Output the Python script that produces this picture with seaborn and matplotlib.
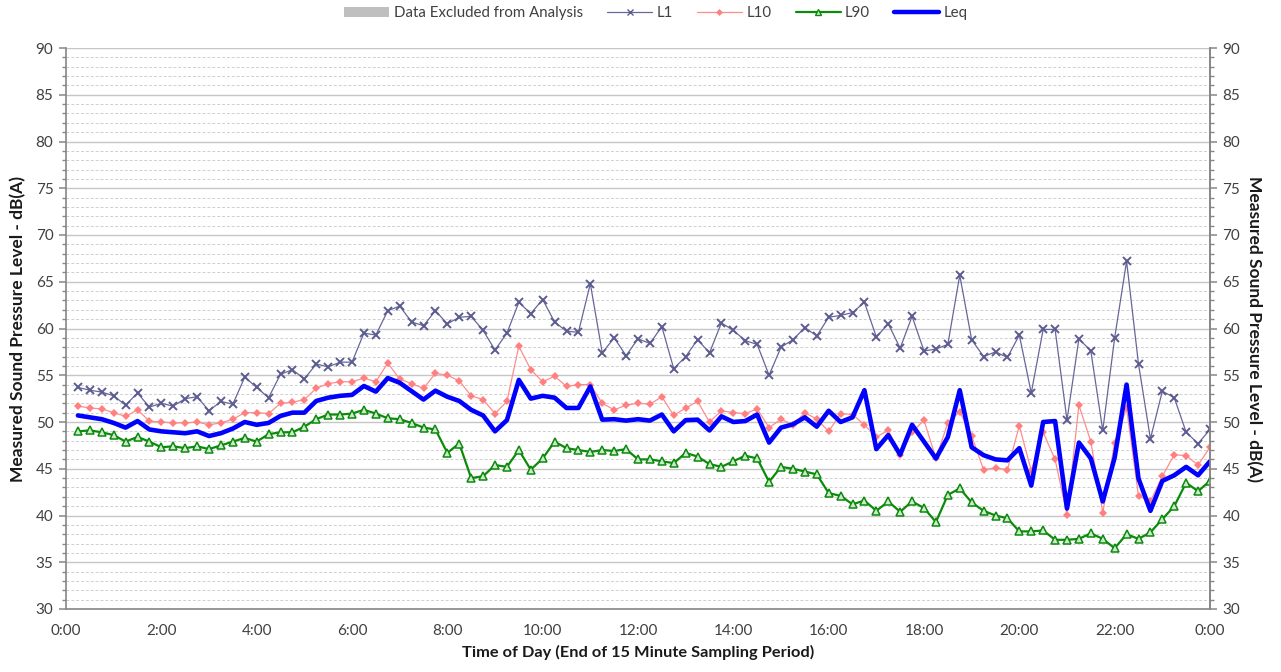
import numpy as np
import pandas as pd
import matplotlib
matplotlib.use("Agg")
import matplotlib.pyplot as plt
from matplotlib.patches import Patch
from matplotlib.lines import Line2D
from matplotlib.ticker import MultipleLocator, FixedLocator
import seaborn as sns

# 15-minute sampling periods, labelled by period end (0:15 ... 24:00)
hours = [0.25 * i for i in range(1, 97)]

l1 = [53.7, 53.4, 53.2, 52.8, 51.8, 53.1, 51.6, 52.0, 51.7, 52.5, 52.7, 51.2, 52.2, 51.9, 54.8, 53.7,
      52.6, 55.1, 55.6, 54.6, 56.2, 55.9, 56.4, 56.4, 59.5, 59.3, 61.9, 62.4, 60.7, 60.3, 61.9, 60.5,
      61.2, 61.3, 59.8, 57.7, 59.5, 62.8, 61.6, 63.1, 60.7, 59.7, 59.6, 64.8, 57.4, 59.0, 57.1, 58.9,
      58.4, 60.2, 55.7, 57.0, 58.8, 57.4, 60.6, 59.8, 58.7, 58.3, 55.0, 58.0, 58.8, 60.1, 59.2, 61.2,
      61.4, 61.7, 62.8, 59.1, 60.5, 57.9, 61.3, 57.6, 57.8, 58.3, 65.7, 58.8, 57.0, 57.5, 56.9, 59.3,
      53.1, 59.9, 59.9, 50.2, 58.9, 57.6, 49.1, 59.0, 67.2, 56.2, 48.2, 53.3, 52.6, 48.9, 47.7, 49.2]

l10 = [51.7, 51.5, 51.4, 51.0, 50.6, 51.3, 50.1, 50.0, 49.9, 49.9, 50.0, 49.7, 49.9, 50.3, 51.0, 51.0,
       50.9, 52.0, 52.1, 52.4, 53.6, 54.1, 54.3, 54.3, 54.7, 54.3, 56.3, 54.6, 54.1, 53.6, 55.2, 55.0,
       54.4, 52.8, 52.4, 50.9, 52.2, 58.1, 55.6, 54.3, 54.9, 53.8, 54.0, 54.0, 52.0, 51.3, 51.8, 52.0,
       51.9, 52.7, 50.7, 51.5, 52.2, 50.0, 51.2, 51.0, 50.9, 51.4, 49.4, 50.3, 49.7, 51.0, 50.3, 49.0,
       50.9, 50.8, 49.7, 48.4, 49.1, 46.5, 48.9, 50.2, 46.1, 49.9, 51.1, 48.5, 44.9, 45.1, 44.9, 49.6,
       44.8, 48.9, 46.0, 40.1, 51.8, 47.9, 40.3, 47.8, 51.5, 42.1, 41.5, 44.2, 46.5, 46.4, 45.4, 47.3]

l90 = [49.0, 49.1, 48.9, 48.6, 47.9, 48.4, 47.9, 47.3, 47.4, 47.2, 47.4, 47.1, 47.5, 47.9, 48.3, 47.9,
       48.7, 48.9, 48.9, 49.5, 50.3, 50.8, 50.8, 50.9, 51.3, 50.9, 50.4, 50.3, 49.9, 49.4, 49.2, 46.7,
       47.7, 44.0, 44.2, 45.4, 45.2, 47.0, 44.9, 46.1, 47.9, 47.2, 47.0, 46.8, 47.0, 46.9, 47.1, 46.0,
       46.0, 45.8, 45.6, 46.7, 46.3, 45.5, 45.2, 45.8, 46.4, 46.1, 43.6, 45.2, 45.0, 44.7, 44.4, 42.4,
       42.1, 41.2, 41.6, 40.5, 41.5, 40.4, 41.5, 40.8, 39.3, 42.2, 42.9, 41.4, 40.5, 40.0, 39.7, 38.3,
       38.3, 38.4, 37.4, 37.4, 37.5, 38.1, 37.5, 36.5, 38.0, 37.5, 38.2, 39.6, 41.0, 43.5, 42.6, 43.7]

leq = [50.7, 50.5, 50.3, 49.9, 49.4, 50.1, 49.2, 49.0, 48.9, 48.8, 49.0, 48.5, 48.8, 49.3, 50.0, 49.7,
       49.9, 50.65, 51.0, 51.0, 52.25, 52.6, 52.8, 52.9, 53.85, 53.25, 54.7, 54.2, 53.3, 52.4, 53.35, 52.7,
       52.25, 51.3, 50.7, 49.0, 50.2, 54.5, 52.5, 52.8, 52.6, 51.5, 51.5, 53.8, 50.25, 50.3, 50.15, 50.3,
       50.15, 50.8, 49.0, 50.2, 50.25, 49.1, 50.6, 50.0, 50.1, 50.8, 47.8, 49.4, 49.75, 50.5, 49.5, 51.2,
       50.0, 50.5, 53.4, 47.1, 48.6, 46.5, 49.7, 47.9, 46.1, 48.4, 53.4, 47.3, 46.45, 46.0, 45.9, 47.2,
       43.2, 50.0, 50.1, 40.75, 47.8, 46.1, 41.5, 46.2, 54.0, 43.95, 40.5, 43.7, 44.3, 45.2, 44.3, 45.8]

x_tick_hours = list(range(0, 25, 2))
x_tick_labels = ["0:00", "2:00", "4:00", "6:00", "8:00", "10:00", "12:00",
                 "14:00", "16:00", "18:00", "20:00", "22:00", "0:00"]

df = pd.DataFrame({"hour": hours, "L1": l1, "L10": l10, "L90": l90, "Leq": leq})

sns.set_style("white")
plt.rcParams["font.family"] = ["Lato", "DejaVu Sans"]

text_col = "#404040"
axis_col = "#868686"

fig = plt.figure(figsize=(12.81, 6.72), dpi=100)
ax = fig.add_axes([66 / 1281, 1 - 609 / 672, (1210 - 66) / 1281, (609 - 48) / 672])

sns.lineplot(data=df, x="hour", y="L1", ax=ax, color="#66669a", linewidth=0.9,
             marker="x", markersize=5.5, markeredgewidth=1.4, markeredgecolor="#5c5c90", zorder=3)
sns.lineplot(data=df, x="hour", y="L10", ax=ax, color="#ff8c8c", linewidth=0.9,
             marker="D", markersize=4.2, markeredgewidth=0, markerfacecolor="#ff8080", zorder=4)
sns.lineplot(data=df, x="hour", y="L90", ax=ax, color="#0b8a0b", linewidth=1.6,
             marker="^", markersize=5.5, markeredgewidth=1.1, markeredgecolor="#0b8a0b",
             markerfacecolor="#cfe9cf", zorder=5)
sns.lineplot(data=df, x="hour", y="Leq", ax=ax, color="#0000ff", linewidth=3.3, zorder=6)

ax.set_xlim(0, 24)
ax.set_ylim(30, 90)
ax.yaxis.set_major_locator(MultipleLocator(5))
ax.yaxis.set_minor_locator(MultipleLocator(1))
ax.xaxis.set_major_locator(FixedLocator(x_tick_hours))
ax.xaxis.set_minor_locator(MultipleLocator(0.5))
ax.set_xticklabels(x_tick_labels)

ax.grid(which="major", axis="y", color="#c6c6c6", linewidth=1.0, linestyle="-")
ax.grid(which="minor", axis="y", color="#cfcfcf", linewidth=0.7, linestyle=(0, (3, 2)))
ax.grid(which="major", axis="x", visible=False)
ax.set_axisbelow(True)

for side in ["left", "bottom", "right"]:
    ax.spines[side].set_color(axis_col)
    ax.spines[side].set_linewidth(1.2)
ax.spines["top"].set_visible(False)

ax.tick_params(axis="both", which="major", direction="out", length=5, width=1.1,
               color=axis_col, labelsize=11, labelcolor=text_col, pad=4)
ax.tick_params(axis="y", which="minor", direction="out", length=3, width=1.0, color=axis_col)
ax.tick_params(axis="x", which="minor", direction="out", length=3, width=1.0, color=axis_col)
ax.tick_params(axis="x", which="major", pad=6)

ax.set_xlabel("Time of Day (End of 15 Minute Sampling Period)", fontsize=11.8,
              fontweight="bold", color="#1a1a1a", labelpad=5)
ax.set_ylabel("Measured Sound Pressure Level - dB(A)", fontsize=12.5,
              fontweight="bold", color="#1a1a1a", labelpad=7)

ax2 = ax.twinx()
ax2.set_ylim(30, 90)
ax2.yaxis.set_major_locator(MultipleLocator(5))
ax2.yaxis.set_minor_locator(MultipleLocator(1))
for side in ["left", "bottom", "top"]:
    ax2.spines[side].set_visible(False)
ax2.spines["right"].set_color(axis_col)
ax2.spines["right"].set_linewidth(1.2)
ax2.tick_params(axis="y", which="major", direction="out", length=5, width=1.1,
                color=axis_col, labelsize=11, labelcolor=text_col, pad=4)
ax2.tick_params(axis="y", which="minor", direction="out", length=3, width=1.0, color=axis_col)
ax2.set_ylabel("Measured Sound Pressure Level - dB(A)", fontsize=12.5, fontweight="bold",
               color="#1a1a1a", rotation=270, labelpad=16)
ax2.grid(False)

handles = [
    Patch(facecolor="#bfbfbf", edgecolor="none", label="Data Excluded from Analysis"),
    Line2D([], [], color="#66669a", linewidth=0.9, marker="x", markersize=4,
           markeredgecolor="#5c5c90", label="L1"),
    Line2D([], [], color="#ff8c8c", linewidth=0.9, marker="D", markersize=3.5,
           markerfacecolor="#ff8080", markeredgewidth=0, label="L10"),
    Line2D([], [], color="#0b8a0b", linewidth=1.6, marker="^", markersize=4.5,
           markeredgecolor="#0b8a0b", markerfacecolor="#cfe9cf", label="L90"),
    Line2D([], [], color="#0000ff", linewidth=3.2, label="Leq"),
]
fig.legend(handles=handles, loc="center", bbox_to_anchor=(656 / 1281, 1 - 13 / 672),
           ncol=5, frameon=False, fontsize=10.8, handlelength=3.0, handletextpad=0.3,
           columnspacing=1.6, labelcolor=text_col)

fig.savefig("out.png", dpi=100)
